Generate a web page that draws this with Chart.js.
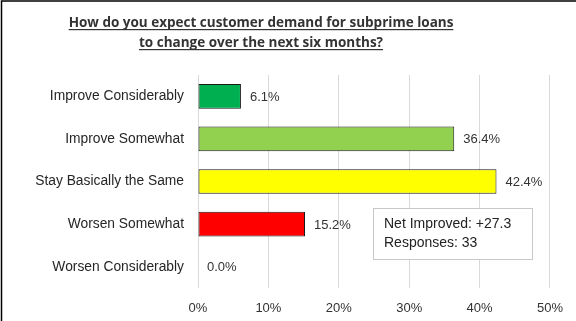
<!DOCTYPE html>
<html>
<head>
<meta charset="utf-8">
<script src="https://cdn.jsdelivr.net/npm/chart.js@4"></script>
<style>
  html, body { margin: 0; padding: 0; background: #fff; }
  #wrap { width: 576px; height: 321px; position: relative; }
</style>
</head>
<body>
<div id="wrap"><canvas id="c" width="576" height="321"></canvas></div>
<script>
const categories = [
  'Improve Considerably',
  'Improve Somewhat',
  'Stay Basically the Same',
  'Worsen Somewhat',
  'Worsen Considerably'
];
const shares = [6.1, 36.4, 42.4, 15.2, 0.0];
const barColors = ['#00B050', '#92D050', '#FFFF00', '#FF0000', '#C00000'];
const titleLines = [
  'How do you expect customer demand for subprime loans',
  'to change over the next six months?'
];
const noteLines = ['Net Improved: +27.3', 'Responses: 33'];
const xTicks = [0, 10, 20, 30, 40, 50];

const labelFont = '13px "Liberation Sans", Arial, sans-serif';

const framePlugin = {
  id: 'frame',
  afterDraw(chart) {
    const ctx = chart.ctx;
    ctx.save();
    // outer frame (top and left edges)
    ctx.strokeStyle = '#000';
    ctx.lineWidth = 1.5;
    ctx.beginPath();
    ctx.moveTo(1.5, 321);
    ctx.lineTo(1.5, 1);
    ctx.lineTo(576, 1);
    ctx.stroke();

    // underlined title
    ctx.fillStyle = '#333';
    ctx.font = 'bold 13.5px "Open Sans", sans-serif';
    ctx.textAlign = 'center';
    ctx.textBaseline = 'alphabetic';
    const cx = 261;
    [27, 47].forEach((y, i) => {
      const t = titleLines[i];
      ctx.fillText(t, cx, y);
      const w = ctx.measureText(t).width;
      ctx.fillRect(cx - w / 2, y + 2, w, 1.2);
    });

    // value labels at bar ends
    const meta = chart.getDatasetMeta(0);
    ctx.font = labelFont;
    ctx.fillStyle = '#333';
    ctx.textAlign = 'left';
    ctx.textBaseline = 'middle';
    meta.data.forEach((bar, i) => {
      ctx.fillText(shares[i].toFixed(1) + '%', bar.x + 9, bar.y + 1);
    });

    // summary box
    const bx = 373.5, by = 208.5, bw = 159, bh = 51;
    ctx.fillStyle = '#fff';
    ctx.fillRect(bx, by, bw, bh);
    ctx.strokeStyle = '#c8c8c8';
    ctx.lineWidth = 1;
    ctx.strokeRect(bx, by, bw, bh);
    ctx.fillStyle = '#222';
    ctx.font = '14px "Liberation Sans", Arial, sans-serif';
    ctx.textBaseline = 'middle';
    ctx.fillText(noteLines[0], 384, 224);
    ctx.fillText(noteLines[1], 384, 243);
    ctx.restore();
  }
};

new Chart(document.getElementById('c'), {
  type: 'bar',
  data: {
    labels: categories,
    datasets: [{
      data: shares,
      backgroundColor: barColors,
      borderColor: '#1a1a1a',
      borderWidth: 1,
      borderSkipped: false,
      barPercentage: 0.58,
      categoryPercentage: 1
    }]
  },
  options: {
    indexAxis: 'y',
    responsive: false,
    animation: false,
    layout: { padding: { top: 75, right: 25, left: 0, bottom: 0 } },
    plugins: { legend: { display: false }, tooltip: { enabled: false }, title: { display: false } },
    scales: {
      x: {
        min: 0, max: 50,
        afterBuildTicks(scale) { scale.ticks = xTicks.map(v => ({ value: v })); },
        afterFit(scale) { scale.height = 33; },
        grid: { color: '#d9d9d9', drawTicks: false, lineWidth: 1 },
        border: { display: false },
        ticks: {
          padding: 13,
          color: '#333',
          font: { family: '"Liberation Sans", Arial, sans-serif', size: 13 },
          callback: v => v + '%'
        }
      },
      y: {
        afterFit(scale) { scale.width = 198; },
        grid: { display: false, drawTicks: false },
        border: { display: false },
        ticks: {
          padding: 14,
          color: '#262626',
          font: { family: '"Liberation Sans", Arial, sans-serif', size: 13.8 }
        }
      }
    }
  },
  plugins: [framePlugin]
});
</script>
</body>
</html>
